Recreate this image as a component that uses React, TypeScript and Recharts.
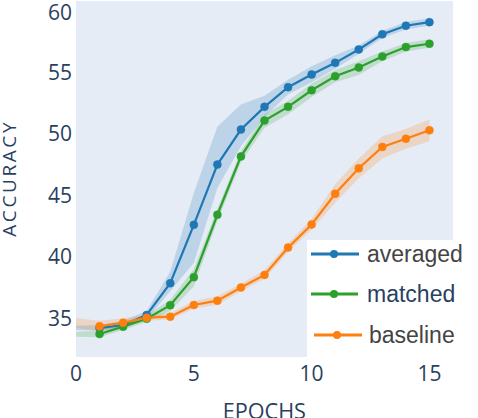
import React from 'react';
import { ComposedChart, Line, Area, XAxis, YAxis, CartesianGrid, Label } from 'recharts';

const epochs = [0, 1, 2, 3, 4, 5, 6, 7, 8, 9, 10, 11, 12, 13, 14, 15];

const averaged = [null, 34.2, 34.45, 35.27, 37.85, 42.6, 47.5, 50.35, 52.2, 53.8, 54.83, 55.78, 56.87, 58.1, 58.8, 59.09];
const averagedLo = [34.05, 34.0, 34.2, 34.9, 37.2, 39.5, 45.6, 49.0, 51.4, 53.2, 54.2, 55.3, 56.5, 57.8, 58.5, 58.8];
const averagedHi = [34.4, 34.45, 34.8, 35.6, 38.8, 45.2, 50.6, 52.4, 53.1, 54.4, 55.5, 56.4, 57.2, 58.4, 59.1, 59.4];

const matched = [null, 33.72, 34.32, 34.97, 36.06, 38.34, 43.42, 48.17, 51.08, 52.2, 53.55, 54.69, 55.4, 56.3, 57.06, 57.33];
const matchedLo = [33.5, 33.45, 34.05, 34.7, 35.6, 37.6, 42.9, 47.7, 50.5, 51.6, 53.0, 54.2, 54.8, 55.9, 56.7, 57.0];
const matchedHi = [33.9, 34.0, 34.6, 35.25, 36.5, 39.0, 43.9, 48.6, 51.6, 52.7, 54.1, 55.2, 55.9, 56.7, 57.4, 57.7];

const baseline = [null, 34.35, 34.64, 35.05, 35.13, 36.08, 36.43, 37.5, 38.53, 40.75, 42.63, 45.13, 47.2, 48.94, 49.6, 50.29];
const baselineLo = [34.25, 33.9, 34.3, 34.8, 34.9, 35.8, 36.1, 37.2, 38.2, 40.4, 42.2, 44.4, 46.4, 48.0, 48.8, 49.4];
const baselineHi = [35.0, 34.8, 35.0, 35.3, 35.4, 36.4, 36.8, 37.8, 38.9, 41.1, 43.1, 45.9, 48.0, 49.8, 50.4, 51.2];

const xTicks = [0, 5, 10, 15];
const yTicks = [35, 40, 45, 50, 55, 60];

const series = [
  { key: 'averaged', name: 'averaged', color: '#1f77b4', textColor: '#444444', values: averaged, lo: averagedLo, hi: averagedHi },
  { key: 'matched', name: 'matched', color: '#2ca02c', textColor: '#2a3f5f', values: matched, lo: matchedLo, hi: matchedHi },
  { key: 'baseline', name: 'baseline', color: '#ff7f0e', textColor: '#444444', values: baseline, lo: baselineLo, hi: baselineHi },
];

const data = epochs.map((e, i) => {
  const row: any = { epoch: e };
  series.forEach((s) => {
    row[s.key] = s.values[i];
    row[s.key + 'Band'] = [s.lo[i], s.hi[i]];
  });
  return row;
});

const tickStyle = { fontFamily: '"Open Sans", sans-serif', fontSize: 21, fill: '#2a3f5f' };

const legendRows = [
  { lineX1: 4, lineX2: 52, cx: 27, y: 14, textX: 60 },
  { lineX1: 4, lineX2: 51, cx: 27, y: 54, textX: 60 },
  { lineX1: 7, lineX2: 55, cx: 30, y: 95, textX: 62 },
];

export default function App() {
  return (
    <div style={{ position: 'absolute', left: 0, top: 0, width: 478, height: 418, background: '#ffffff', overflow: 'hidden' }}>
      <ComposedChart width={478} height={418} data={data} margin={{ top: 1, right: 25, bottom: 0, left: 0 }}>
        <rect x={76} y={1} width={377} height={356} fill="#E5ECF6" />
        <CartesianGrid stroke="#ffffff" strokeWidth={1.2} fill="#E5ECF6" />
        <XAxis
          dataKey="epoch"
          type="number"
          domain={[0, 16]}
          ticks={xTicks}
          height={61}
          axisLine={false}
          tickLine={false}
          tickSize={0}
          tickMargin={9}
          tick={tickStyle}
          allowDataOverflow
        >
          <Label
            content={() => (
              <text x={264.4} y={418.5} textAnchor="middle" fontFamily='"Open Sans", sans-serif' fontSize={21.6} fill="#2a3f5f">
                EPOCHS
              </text>
            )}
          />
        </XAxis>
        <YAxis
          type="number"
          domain={[31.85, 60.81]}
          ticks={yTicks}
          width={76}
          axisLine={false}
          tickLine={false}
          tickSize={0}
          tickMargin={4}
          tick={tickStyle}
          allowDataOverflow
        >
          <Label
            content={() => (
              <text
                x={16}
                y={178.3}
                textAnchor="middle"
                transform="rotate(-90 16 178.3)"
                fontFamily='"Open Sans", sans-serif'
                fontSize={19}
                letterSpacing={2.6}
                fill="#2a3f5f"
              >
                ACCURACY
              </text>
            )}
          />
        </YAxis>
        {series.map((s) => (
          <Area
            key={s.key + 'Band'}
            dataKey={s.key + 'Band'}
            type="linear"
            stroke="none"
            fill={s.color}
            fillOpacity={0.2}
            isAnimationActive={false}
            dot={false}
            activeDot={false}
          />
        ))}
        {series.map((s) => (
          <Line
            key={s.key}
            dataKey={s.key}
            type="linear"
            stroke={s.color}
            strokeWidth={2.2}
            dot={{ r: 4, fill: s.color, stroke: s.color, strokeWidth: 0.5 }}
            activeDot={false}
            isAnimationActive={false}
          />
        ))}
      </ComposedChart>
      <div style={{ position: 'absolute', left: 307, top: 240, width: 171, height: 117, background: '#ffffff' }}>
        <svg width={171} height={117} style={{ position: 'absolute', left: 0, top: 0 }}>
          {series.map((s, i) => {
            const r = legendRows[i];
            return (
              <g key={s.key}>
                <line x1={r.lineX1} x2={r.lineX2} y1={r.y} y2={r.y} stroke={s.color} strokeWidth={3} />
                <circle cx={r.cx} cy={r.y} r={4} fill={s.color} />
                <text
                  x={r.textX}
                  y={r.y}
                  dy="0.36em"
                  fontFamily='"Liberation Sans", Arial, sans-serif'
                  fontSize={23}
                  fill={s.textColor}
                >
                  {s.name}
                </text>
              </g>
            );
          })}
        </svg>
      </div>
    </div>
  );
}
